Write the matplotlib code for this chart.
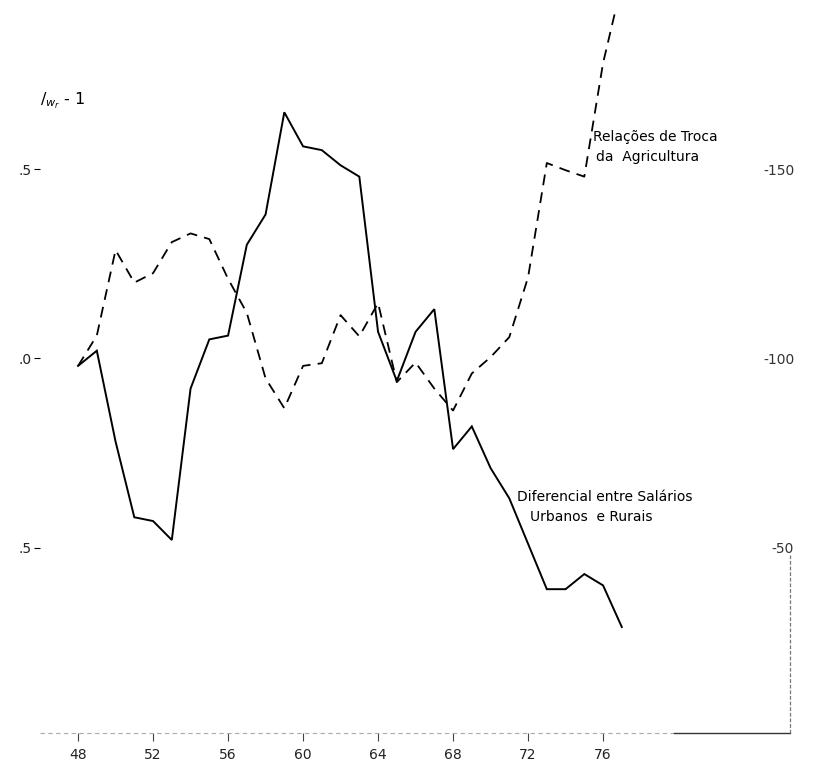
import numpy as np
import matplotlib
matplotlib.use("Agg")
from matplotlib import pyplot as plt

# anos 1948-1977
years = list(range(48, 78))

# diferencial entre salarios urbanos e rurais (w_u/w_r - 1), escala da esquerda
diferencial = [-0.02, 0.02, -0.22, -0.42, -0.43, -0.48, -0.08, 0.05, 0.06, 0.30,
               0.38, 0.65, 0.56, 0.55, 0.51, 0.48, 0.07, -0.06, 0.07, 0.13,
               -0.24, -0.18, -0.29, -0.37, -0.49, -0.61, -0.61, -0.57, -0.60, -0.71]

# relacoes de troca da agricultura (indice), escala da direita
troca = [98, 106, 128.6, 120, 122.5, 130.7, 133, 131.5, 121, 112,
         94.7, 86.8, 98, 98.7, 111.4, 105.8, 114.6, 93.7, 98.9, 92,
         86.2, 96, 100.3, 105.6, 121.4, 151.6, 149.7, 148, 178, 199]

xticks = [48, 52, 56, 60, 64, 68, 72, 76]
left_ticks = [0.5, 0.0, -0.5]
left_labels = ['.5', '.0', '.5']
right_ticks = [150, 100, 50]
right_labels = ['-150', '-100', '-50']

W, H = 825, 763
fig = plt.figure(figsize=(W / 100, H / 100), dpi=100)
ax = fig.add_axes([40 / W, 30 / H, 750 / W, 721 / H])

y0, y1 = -0.99, 0.915
ax.set_xlim(45.97, 85.97)
ax.set_ylim(y0, y1)

ax.plot(years, diferencial, color='black', lw=1.4, solid_joinstyle='miter')

ax2 = ax.twinx()
ax2.set_ylim(100 * (1 + y0), 100 * (1 + y1))
ax2.plot(years, troca, color='black', lw=1.3, linestyle=(0, (6, 4)))

for a in (ax, ax2):
    for s in a.spines.values():
        s.set_visible(False)

ax.set_xticks(xticks)
ax.set_xticklabels([str(t) for t in xticks])
ax.tick_params(axis='x', direction='out', length=6, width=0.8, pad=5,
               labelsize=10, color='#444444', labelcolor='#222222')
ax.set_yticks(left_ticks)
ax.set_yticklabels(left_labels)
ax.tick_params(axis='y', direction='out', length=4, width=0.8, pad=2,
               labelsize=10, labelcolor='#222222')

ax2.set_yticks(right_ticks)
ax2.set_yticklabels(right_labels)
ax2.tick_params(axis='y', length=0, pad=3, labelsize=10, labelcolor='#333333')
for lab in ax2.get_yticklabels():
    lab.set_horizontalalignment('right')

# eixo inferior e borda direita, tracos finos
ax.plot([0, 0.845], [0, 0], transform=ax.transAxes, color='#aaaaaa',
        lw=0.8, linestyle=(0, (4, 3)), clip_on=False)
ax.plot([0.845, 1.0], [0, 0], transform=ax.transAxes, color='#333333',
        lw=1.0, clip_on=False)
ax.plot([1.0, 1.0], [0, 0.247], transform=ax.transAxes, color='#777777',
        lw=0.9, linestyle=(0, (3, 1.5)), clip_on=False)

fig.text(40 / W, 1 - 101 / H, r'$/_{w_r}$ - 1', fontsize=11.5, va='center')

fig.text(593 / W, 1 - 137 / H, 'Relações de Troca', fontsize=10, va='center')
fig.text(596 / W, 1 - 157 / H, 'da  Agricultura', fontsize=10, va='center')
fig.text(517 / W, 1 - 497 / H, 'Diferencial entre Salários', fontsize=10, va='center')
fig.text(530 / W, 1 - 517 / H, 'Urbanos  e Rurais', fontsize=10, va='center')

fig.savefig('out.png', dpi=100, facecolor='white')
